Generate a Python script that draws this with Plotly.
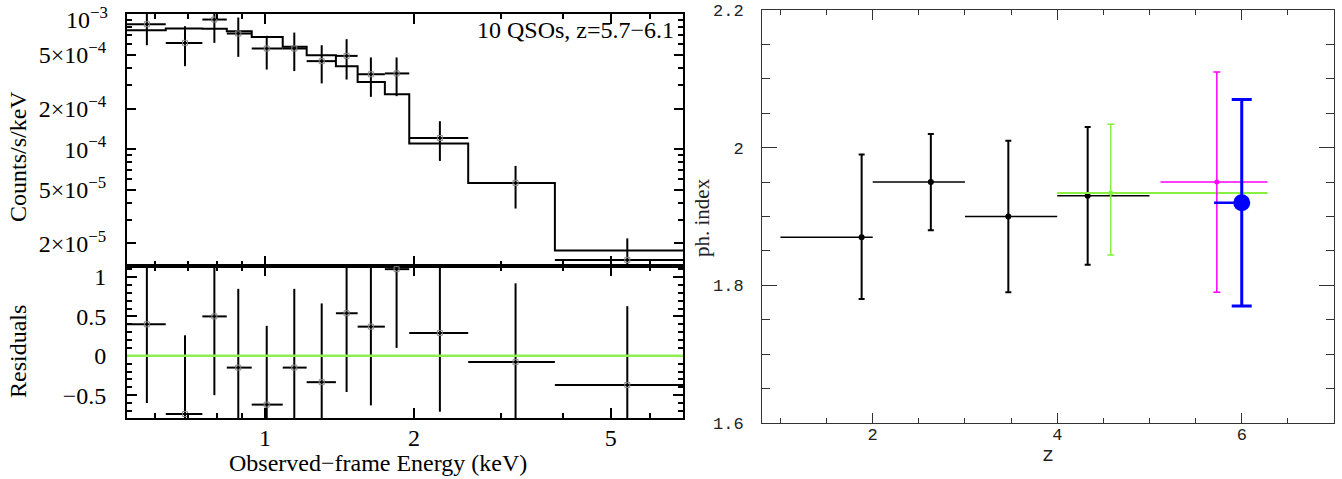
import plotly.graph_objects as go

# ---------------- Left panel data (X-ray stacked spectrum) ----------------
bin_edges = [0.50, 0.630, 0.747, 0.837, 0.940, 1.086, 1.214, 1.391, 1.539,
             1.747, 1.957, 2.575, 3.855, 7.5]
bin_centers = [0.577, 0.689, 0.790, 0.883, 1.008, 1.146, 1.302, 1.462, 1.637,
               1.845, 2.257, 3.21, 5.40]
counts = [8.43e-4, 6.13e-4, 9.13e-4, 7.19e-4, 5.57e-4, 5.57e-4, 4.49e-4,
          4.91e-4, 3.59e-4, 3.64e-4, 1.21e-4, 5.62e-5, 1.51e-5]
counts_hi = [1.10e-3, 8.15e-4, 1.01e-3, 9.45e-4, 6.91e-4, 7.31e-4, 5.89e-4,
             6.53e-4, 4.78e-4, 4.78e-4, 1.61e-4, 7.51e-5, 2.18e-5]
counts_lo = [5.89e-4, 4.12e-4, 6.13e-4, 4.83e-4, 3.89e-4, 3.79e-4, 3.07e-4,
             3.28e-4, 2.44e-4, 2.47e-4, 8.18e-5, 3.63e-5, 1.00e-5]
model = [7.61e-4, 7.83e-4, 7.80e-4, 7.48e-4, 6.79e-4, 5.73e-4, 4.97e-4,
         4.12e-4, 3.15e-4, 2.55e-4, 1.10e-4, 5.62e-5, 1.77e-5]
residuals = [0.40, -0.74, 0.50, -0.15, -0.62, -0.15, -0.335, 0.54, 0.37,
             1.10, 0.29, -0.08, -0.37]
residual_err = [1.0] * 13

count_tickvals = [2e-5, 5e-5, 1e-4, 2e-4, 5e-4, 1e-3]
count_ticktext = ["2×10<sup>−5</sup>", "5×10<sup>−5</sup>", "10<sup>−4</sup>",
                  "2×10<sup>−4</sup>", "5×10<sup>−4</sup>", ""]
top_tick_label = "10<sup>−3</sup>"

# ---------------- Right panel data (photon index vs z) ----------------
z_black = [1.88, 2.63, 3.47, 4.33]
g_black = [1.87, 1.95, 1.90, 1.93]
g_black_hi = [1.99, 2.02, 2.01, 2.03]
g_black_lo = [1.78, 1.88, 1.79, 1.83]
z_black_lo = [1.0, 2.0, 3.0, 4.0]
z_black_hi = [2.0, 3.0, 4.0, 5.0]

z_green = [4.58]
g_green = [1.934]
g_green_hi = [2.034]
g_green_lo = [1.844]
z_green_lo = [4.0]
z_green_hi = [6.28]

z_mag = [5.73]
g_mag = [1.95]
g_mag_hi = [2.11]
g_mag_lo = [1.79]
z_mag_lo = [5.12]
z_mag_hi = [6.28]

z_blue = [6.0]
g_blue = [1.92]
g_blue_hi = [2.07]
g_blue_lo = [1.77]
z_blue_lo = [5.70]
z_blue_hi = [6.0]

# ---------------- helpers ----------------
W, H = 1342, 479
def px(x):
    return x / W
def py(y):
    return 1 - y / H

def errs(c, lo, hi):
    return ([h - v for v, h in zip(c, hi)], [v - l for v, l in zip(c, lo)])

fig = go.Figure()

# model histogram
fig.add_trace(go.Scatter(
    x=bin_edges, y=model + [model[-1]], mode="lines", line_shape="hv",
    line=dict(color="black", width=2), xaxis="x", yaxis="y", hoverinfo="skip"))

bx_p, bx_m = errs(bin_centers, bin_edges[:-1], bin_edges[1:])
cy_p, cy_m = errs(counts, counts_lo, counts_hi)

fig.add_trace(go.Scatter(
    x=bin_centers, y=counts, mode="markers",
    marker=dict(symbol="square-open", size=5, color="#888888", line=dict(width=1)),
    error_x=dict(type="data", array=bx_p, arrayminus=bx_m, color="black", thickness=2, width=0),
    error_y=dict(type="data", array=cy_p, arrayminus=cy_m, color="black", thickness=2, width=0),
    xaxis="x", yaxis="y"))

fig.add_trace(go.Scatter(
    x=bin_centers, y=residuals, mode="markers",
    marker=dict(symbol="square-open", size=5, color="#888888", line=dict(width=1)),
    error_x=dict(type="data", array=bx_p, arrayminus=bx_m, color="black", thickness=2, width=0),
    error_y=dict(type="data", array=residual_err, color="black", thickness=2, width=0),
    xaxis="x2", yaxis="y2"))

def add_pt(z, g, zlo, zhi, glo, ghi, color, msize, cap, thick, hthick):
    xp, xm = errs(z, zlo, zhi)
    yp, ym = errs(g, glo, ghi)
    fig.add_trace(go.Scatter(
        x=z, y=g, mode="markers",
        marker=dict(color=color, size=msize),
        error_x=dict(type="data", array=xp, arrayminus=xm, color=color, thickness=hthick, width=0),
        error_y=dict(type="data", array=yp, arrayminus=ym, color=color, thickness=thick, width=cap),
        xaxis="x3", yaxis="y3"))

add_pt(z_black, g_black, z_black_lo, z_black_hi, g_black_lo, g_black_hi, "black", 6, 3, 2, 1.5)
add_pt(z_green, g_green, z_green_lo, z_green_hi, g_green_lo, g_green_hi, "#88f040", 5, 3.5, 1.5, 2)
add_pt(z_mag, g_mag, z_mag_lo, z_mag_hi, g_mag_lo, g_mag_hi, "#ff00ff", 5, 3.5, 1.5, 1.5)
add_pt(z_blue, g_blue, z_blue_lo, z_blue_hi, g_blue_lo, g_blue_hi, "#0000ff", 17, 10, 3, 2.5)

serif = "Liberation Serif"
mono = "Liberation Mono"

left_x_dom = [px(127), px(683)]
common_left = dict(showgrid=False, zeroline=False, showline=True, linecolor="black",
                   linewidth=2, mirror="ticks", ticks="inside", tickcolor="black",
                   tickwidth=1.5, automargin=False,
                   tickfont=dict(family=serif, size=24, color="black"))
common_right = dict(showgrid=False, zeroline=False, showline=True, linecolor="#333333",
                    linewidth=1, mirror="ticks", ticks="inside", tickcolor="#333333",
                    tickwidth=1, automargin=False,
                    tickfont=dict(family=mono, size=17, color="#222222"))

fig.update_layout(
    template="none",
    width=W, height=H, margin=dict(l=0, r=0, t=0, b=0, autoexpand=False),
    paper_bgcolor="white", plot_bgcolor="white", showlegend=False,
    xaxis=dict(type="log", range=[-0.279, 0.845], domain=left_x_dom, anchor="y",
               showticklabels=False, tickvals=[1, 2, 5], ticklen=10,
               minor=dict(tickvals=[0.6, 0.7, 0.8, 0.9, 3, 4, 6, 7], ticklen=5,
                          ticks="inside", tickcolor="black", tickwidth=1.5),
               **common_left),
    yaxis=dict(type="log", range=[-4.866, -2.9985], domain=[py(266), py(14)], anchor="x",
               tickvals=count_tickvals, ticktext=count_ticktext,
               ticklen=9, ticklabelstandoff=14, ticklabeloverflow="allow",
               minor=dict(tickvals=[3e-5, 4e-5, 6e-5, 7e-5, 8e-5, 9e-5,
                                    3e-4, 4e-4, 6e-4, 7e-4, 8e-4, 9e-4], ticklen=5,
                          ticks="inside", tickcolor="black", tickwidth=1.5),
               **common_left),
    xaxis2=dict(type="log", range=[-0.279, 0.845], domain=left_x_dom, anchor="y2",
                tickvals=[1, 2, 5], ticktext=["1", "2", "5"], ticklen=10,
                ticklabelstandoff=-3,
                minor=dict(tickvals=[0.6, 0.7, 0.8, 0.9, 3, 4, 6, 7], ticklen=5,
                           ticks="inside", tickcolor="black", tickwidth=1.5),
                **common_left),
    yaxis2=dict(range=[-0.79, 1.14], domain=[py(418), py(266)], anchor="x2",
                tickvals=[-0.5, 0, 0.5, 1], ticktext=["−0.5", "0", "0.5", "1"],
                ticklen=10, ticklabelstandoff=14,
                minor=dict(dtick=0.1, ticklen=5, ticks="inside", tickcolor="black",
                           tickwidth=1.5),
                **common_left),
    xaxis3=dict(range=[0.8, 7.0], domain=[px(762), px(1334)], anchor="y3",
                tickvals=[2, 4, 6], ticklen=10, ticklabelstandoff=-4,
                minor=dict(dtick=0.5, tick0=0, ticklen=5, ticks="inside",
                           tickcolor="#333333", tickwidth=1),
                **common_right),
    yaxis3=dict(range=[1.6, 2.2], domain=[py(423), py(10)], anchor="x3",
                tickvals=[1.6, 1.8, 2.0, 2.2],
                ticktext=["1.6", "1.8", "2", "2.2"], ticklen=15, ticklabelstandoff=14,
                ticklabeloverflow="allow",
                minor=dict(dtick=0.05, tick0=0, ticklen=8, ticks="inside",
                           tickcolor="#333333", tickwidth=1),
                **common_right),
    shapes=[dict(type="line", xref="x2 domain", yref="y2", x0=0, x1=1, y0=0, y1=0,
                 line=dict(color="#90ee50", width=2.5))],
    annotations=[
        dict(text=top_tick_label, x=px(110), y=py(18), xref="paper", yref="paper",
             showarrow=False, xanchor="right", yanchor="middle",
             font=dict(family=serif, size=24, color="black")),
        dict(text="Counts/s/keV", x=px(18), y=py(157), xref="paper", yref="paper",
             textangle=-90, showarrow=False, xanchor="center", yanchor="middle",
             font=dict(family=serif, size=24, color="black")),
        dict(text="Residuals", x=px(18), y=py(352), xref="paper", yref="paper",
             textangle=-90, showarrow=False, xanchor="center", yanchor="middle",
             font=dict(family=serif, size=24, color="black")),
        dict(text="Observed−frame Energy (keV)", x=px(378), y=py(463), xref="paper",
             yref="paper", showarrow=False, xanchor="center", yanchor="middle",
             font=dict(family=serif, size=24, color="black")),
        dict(text="10 QSOs, z=5.7−6.1", x=px(676), y=py(30), xref="paper", yref="paper",
             showarrow=False, xanchor="right", yanchor="middle",
             font=dict(family=serif, size=24, color="black")),
        dict(text="ph. index", x=px(702), y=py(217), xref="paper", yref="paper",
             textangle=-90, showarrow=False, xanchor="center", yanchor="middle",
             font=dict(family=serif, size=21, color="#222222")),
        dict(text="z", x=px(1048), y=py(455), xref="paper", yref="paper",
             showarrow=False, xanchor="center", yanchor="middle",
             font=dict(family=mono, size=20, color="#222222")),
    ],
)

fig.write_html("out.html")
